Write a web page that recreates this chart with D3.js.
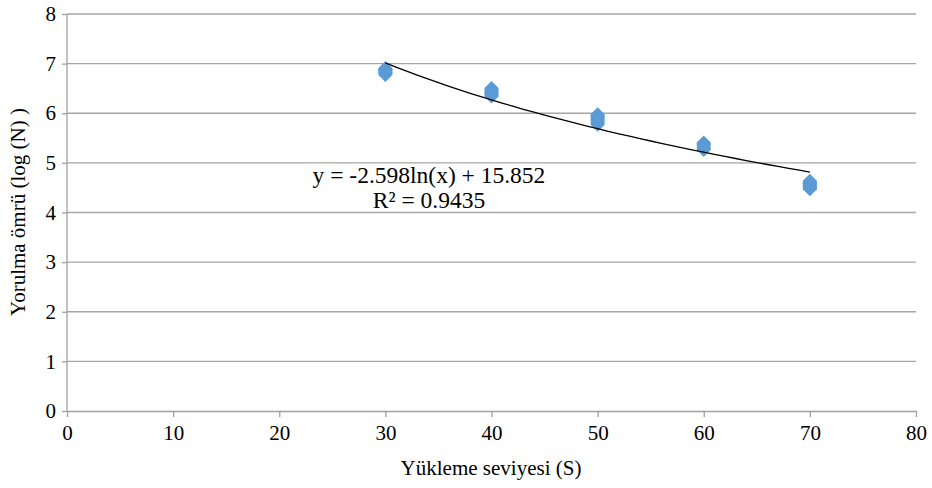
<!DOCTYPE html>
<html>
<head>
<meta charset="utf-8">
<script src="https://cdn.jsdelivr.net/npm/d3@7"></script>
<style>
  body { margin: 0; background: #fff; }
  #chart { width: 932px; height: 488px; }
  svg text { font-family: "Liberation Serif", "Times New Roman", Times, serif !important; fill: #000; }
</style>
</head>
<body>
<div id="chart"></div>
<script>
/* data */
const loadLevels = [30, 30, 30, 40, 40, 40, 50, 50, 50, 60, 60, 70, 70, 70];
const fatigueLife = [6.80, 6.85, 6.88, 6.37, 6.42, 6.48, 5.80, 5.88, 5.95, 5.29, 5.38, 4.50, 4.56, 4.61];
const xTicks = [0, 10, 20, 30, 40, 50, 60, 70, 80];
const yTicks = [0, 1, 2, 3, 4, 5, 6, 7, 8];
/* logarithmic trendline shown on the chart */
const trendA = -2.598;
const trendB = 15.852;
const trendRange = [30, 70];
const trendLabel = ["y = -2.598ln(x) + 15.852", "R² = 0.9435"];

const width = 932;
const height = 488;
const margin = { top: 14, left: 67, right: 16, bottom: 77 };
const fontSize = "21px";

const svg = d3.select("#chart")
    .append("svg")
    .attr("width", width)
    .attr("height", height);

const xScale = d3.scaleLinear()
    .domain([0, 80])
    .range([margin.left, width - margin.right]);

const yScale = d3.scaleLinear()
    .domain([0, 8])
    .range([height - margin.bottom, margin.top]);

// horizontal gridlines
svg.append("g")
    .selectAll("line")
    .data(yTicks.filter(d => d > 0))
    .join("line")
    .attr("x1", xScale(0))
    .attr("x2", xScale(80))
    .attr("y1", d => yScale(d))
    .attr("y2", d => yScale(d))
    .attr("stroke", "#a6a6a6")
    .attr("stroke-width", 1.3);

// y axis
const yAxis = svg.append("g")
    .attr("transform", `translate(${margin.left},0)`)
    .call(d3.axisLeft(yScale).tickValues(yTicks).tickSize(5).tickPadding(6).tickFormat(d3.format("d")));

// x axis
const xAxis = svg.append("g")
    .attr("transform", `translate(0,${height - margin.bottom})`)
    .call(d3.axisBottom(xScale).tickValues(xTicks).tickSize(6).tickPadding(8).tickSizeOuter(0).tickFormat(d3.format("d")));

[xAxis, yAxis].forEach(a => {
    a.attr("font-family", null).attr("font-size", null);
    a.selectAll("path, line").attr("stroke", "#a0a0a0").attr("stroke-width", 1.3);
    a.selectAll("text").style("font-size", fontSize).attr("fill", "#000");
});
yAxis.select(".domain").attr("d", `M0,${yScale(0)}V${yScale(8)}`);

// data points (diamonds)
const points = loadLevels.map((x, i) => ({ x: x, y: fatigueLife[i] }));
svg.append("g")
    .selectAll("path")
    .data(points)
    .join("path")
    .attr("transform", d => `translate(${xScale(d.x)},${yScale(d.y)})`)
    .attr("d", "M0,-8.5L7,-1.5L7,1.5L0,8.5L-7,1.5L-7,-1.5Z")
    .attr("fill", "#5b9bd5");

// trendline
const trendData = d3.range(trendRange[0], trendRange[1] + 0.5, 1).map(x => ({ x: x, y: trendA * Math.log(x) + trendB }));
const line = d3.line()
    .x(d => xScale(d.x))
    .y(d => yScale(d.y));
svg.append("path")
    .datum(trendData)
    .attr("d", line)
    .attr("fill", "none")
    .attr("stroke", "#000")
    .attr("stroke-width", 1.3);

// trendline label
svg.append("text")
    .attr("x", 429)
    .attr("y", 183)
    .attr("text-anchor", "middle")
    .style("font-size", "23.5px")
    .text(trendLabel[0]);
svg.append("text")
    .attr("x", 429)
    .attr("y", 208)
    .attr("text-anchor", "middle")
    .style("font-size", "23.5px")
    .text(trendLabel[1]);

// axis titles
svg.append("text")
    .attr("x", 491)
    .attr("y", 475)
    .attr("text-anchor", "middle")
    .style("font-size", fontSize)
    .text("Yükleme seviyesi (S)");

svg.append("text")
    .attr("transform", "rotate(-90)")
    .attr("x", -212)
    .attr("y", 25)
    .attr("text-anchor", "middle")
    .style("font-size", fontSize)
    .text("Yorulma ömrü (log (N) )");
</script>
</body>
</html>
